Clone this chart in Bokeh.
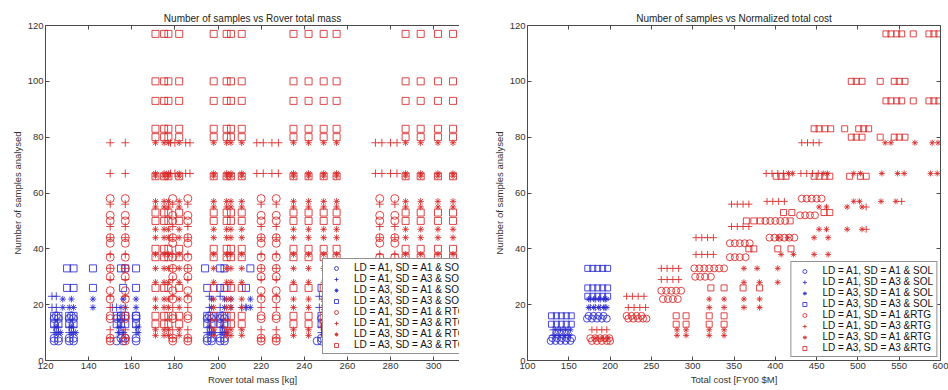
from bokeh.plotting import figure
from bokeh.models import Range1d, LinearAxis, FixedTicker, Legend, LegendItem
from bokeh.layouts import row
from bokeh.embed import file_html
from bokeh.resources import INLINE

BLUE = "#2a2ad0"
RED = "#d82626"
FONT = "Liberation Sans"
AXC = "#4a4a4a"

LABELS_LEFT = ["LD = A1, SD = A1 & SOL", "LD = A1, SD = A3 & SOL", "LD = A3, SD = A1 & SOL",
               "LD = A3, SD = A3 & SOL", "LD = A1, SD = A1 & RTG", "LD = A1, SD = A3 & RTG",
               "LD = A3, SD = A1 & RTG", "LD = A3, SD = A3 & RTG"]
LABELS_RIGHT = ["LD = A1, SD = A1 & SOL", "LD = A1, SD = A3 & SOL", "LD = A3, SD = A1 & SOL",
                "LD = A3, SD = A3 & SOL", "LD = A1, SD = A1 &RTG", "LD = A1, SD = A3 &RTG",
                "LD = A3, SD = A1 &RTG", "LD = A3, SD = A3 &RTG"]
MARKERS = ["circle", "cross", "asterisk", "square"] * 2
COLORS = [BLUE] * 4 + [RED] * 4
SIZES_LEFT = [8, 8, 6.5, 7] * 2
SIZES_RIGHT = [7, 7, 6, 6] * 2

Y_TICKS = [0, 20, 40, 60, 80, 100, 120]
MASS_TICKS = [120, 140, 160, 180, 200, 220, 240, 260, 280, 300, 320]
COST_TICKS = [100, 150, 200, 250, 300, 350, 400, 450, 500, 550, 600]

# ---------------- Left panel: samples vs rover total mass [kg] ----------------
# rows: (number of samples, [rover masses])
M_SOL_A1A1 = [(7, [124, 126, 131, 133, 153, 156, 162, 195, 197, 201, 203, 246, 248]),
              (8, [124, 126, 131, 133, 155, 157, 162, 195, 197, 201, 203, 248]),
              (15, [124, 126, 131, 133, 153, 155, 162, 195, 197, 201, 203, 248]),
              (16, [125, 132, 155, 162, 196, 202])]
M_SOL_A1A3 = [(10, [124, 126, 131, 133, 154, 156, 162, 195, 197, 201, 203, 248]),
              (12, [124, 126, 131, 133, 155, 162, 196, 202, 248]),
              (19, [123, 125, 151, 153, 196, 201, 211, 213, 247]),
              (23, [123, 125, 196, 201, 247])]
M_SOL_A3A1 = [(10, [125, 127, 132, 134, 154, 156, 163, 196, 198, 202, 204, 249]),
              (12, [125, 132, 154, 163, 196, 202]),
              (19, [128, 131, 133, 142, 155, 157, 162, 197, 203, 206, 213, 215, 249]),
              (22, [128, 132, 142, 156, 162, 197, 203, 206, 215, 249])]
M_SOL_A3A3 = [(13, [124, 126, 131, 133, 153, 155, 157, 162, 195, 197, 201, 203, 248]),
              (16, [124, 126, 131, 133, 153, 155, 157, 162, 195, 197, 201, 203, 248]),
              (26, [130, 133, 142, 156, 162, 195, 201, 203, 213, 248]),
              (33, [130, 133, 142, 155, 157, 162, 194, 201, 203, 215, 251])]

M_COLS_CP = [150, 157, 179, 186, 220, 227, 275, 282]
M_COLS_CP_HI = [150, 157, 178, 180, 185, 187, 218, 221, 225, 228, 273, 276, 280, 283]
M_COLS_SQ = [171, 175, 177, 182, 198, 204, 206, 211, 235, 242, 249, 255, 287, 294, 302, 309]

M_RTG_A1A1 = [(7, M_COLS_CP), (8, M_COLS_CP), (15, M_COLS_CP), (16, M_COLS_CP),
              (22, M_COLS_CP), (25, M_COLS_CP), (30, M_COLS_CP), (33, M_COLS_CP),
              (37, M_COLS_CP), (42, M_COLS_CP), (44, M_COLS_CP), (50, M_COLS_CP),
              (52, M_COLS_CP), (58, M_COLS_CP)]
M_RTG_A1A3 = [(8, M_COLS_CP), (11, M_COLS_CP), (19, M_COLS_CP), (23, M_COLS_CP),
              (29, M_COLS_CP), (33, M_COLS_CP), (38, M_COLS_CP), (44, M_COLS_CP),
              (48, M_COLS_CP), (56, M_COLS_CP), (67, M_COLS_CP_HI), (78, M_COLS_CP_HI)]
M_RTG_A3A1 = [(9, M_COLS_SQ), (11, M_COLS_SQ), (19, M_COLS_SQ), (22, M_COLS_SQ),
              (28, M_COLS_SQ), (33, M_COLS_SQ), (38, M_COLS_SQ), (44, M_COLS_SQ),
              (47, M_COLS_SQ), (55, M_COLS_SQ), (57, M_COLS_SQ), (66, M_COLS_SQ),
              (67, M_COLS_SQ), (78, M_COLS_SQ)]
M_RTG_A3A3 = [(13, M_COLS_SQ), (16, M_COLS_SQ), (26, M_COLS_SQ), (37, M_COLS_SQ),
              (40, M_COLS_SQ), (50, M_COLS_SQ), (53, M_COLS_SQ), (66, M_COLS_SQ),
              (80, M_COLS_SQ), (83, M_COLS_SQ), (93, M_COLS_SQ), (100, M_COLS_SQ),
              (117, M_COLS_SQ)]

# ---------------- Right panel: samples vs normalized total cost [FY00 $M] ----------------
C_SOL_A1A1 = [(7, [128, 134, 140, 146, 152]), (8, [130, 136, 142, 148, 154]),
              (15, [172, 178, 184, 190, 196]), (16, [174, 180, 186, 192])]
C_SOL_A1A3 = [(9, [131, 137, 143, 149]), (11, [131, 137, 143, 149]),
              (19, [176, 182, 188, 194]), (22, [176, 182, 188, 194])]
C_SOL_A3A1 = [(9, [133, 139, 145, 151]), (11, [134, 140, 146, 152]),
              (19, [174, 180, 186, 192, 196]), (22, [174, 180, 186, 192, 196])]
C_SOL_A3A3 = [(13, [129, 135, 141, 147, 153]), (16, [129, 135, 141, 147, 153]),
              (23, [173, 179, 185, 191, 197]), (26, [173, 179, 185, 191, 197]),
              (33, [173, 179, 185, 191, 197])]

C_RTG_A1A1 = [(7, [178, 184, 190, 196, 200]), (8, [176, 182, 188, 194, 199]),
              (15, [222, 228, 234, 240, 244]), (16, [220, 226, 232, 238]),
              (22, [264, 270, 276, 282]), (25, [262, 268, 274, 280, 286]),
              (30, [303, 309, 315, 322]), (33, [302, 308, 314, 320, 326, 332, 338]),
              (37, [345, 351, 357, 364]), (42, [345, 351, 357, 363, 369]),
              (44, [393, 399, 405, 411, 417, 423]), (50, [388, 394, 400, 406, 412]),
              (52, [430, 436, 442, 448]), (58, [432, 438, 444, 450, 456])]
C_RTG_A1A3 = [(11, [178, 184, 190, 196]), (19, [222, 229, 236, 243]), (23, [220, 227, 234, 241]),
              (29, [262, 269, 276, 283]), (33, [262, 269, 276, 283]),
              (38, [304, 311, 318, 325]), (44, [304, 311, 318, 325]),
              (48, [347, 354, 361, 368]), (56, [347, 354, 361, 368]),
              (47, [510]), (55, [510]), (57, [390, 397, 404, 411, 553]),
              (67, [389, 396, 403, 410, 431, 438, 445, 452]), (78, [432, 439, 446, 453])]
C_RTG_A3A1 = [(8, [183, 190, 197]), (9, [281, 292, 320, 338]), (11, [281, 292, 320, 338]),
              (19, [320, 338, 362, 381]), (22, [320, 338, 362, 381]),
              (28, [362, 381, 403, 423]), (33, [362, 378, 403, 423]),
              (38, [407, 422, 447, 464]), (44, [404, 415, 447, 464]),
              (47, [453, 462, 487, 505]), (55, [453, 462, 487, 505]),
              (57, [495, 502, 528, 546]),
              (67, [416, 421, 458, 463, 495, 503, 529, 548, 556, 588, 596]),
              (78, [533, 540, 569, 590, 597])]
C_RTG_A3A3 = [(13, [280, 292, 320, 338]), (16, [280, 292, 320, 338]),
              (26, [322, 338, 361, 381]), (40, [368, 374, 403, 419]),
              (50, [365, 374, 382, 418]), (53, [410, 420, 459, 466]),
              (66, [401, 407, 413, 447, 453, 460, 466, 490, 503, 510]),
              (80, [492, 498, 505, 527, 544, 550, 557]),
              (83, [447, 453, 460, 467, 484, 501, 507, 513]),
              (93, [534, 540, 547, 553, 567, 586, 592, 598]),
              (100, [492, 498, 505, 527, 544, 550, 557]),
              (117, [534, 540, 547, 553, 567, 586, 592, 598])]

LEFT_SERIES = [M_SOL_A1A1, M_SOL_A1A3, M_SOL_A3A1, M_SOL_A3A3,
               M_RTG_A1A1, M_RTG_A1A3, M_RTG_A3A1, M_RTG_A3A3]
RIGHT_SERIES = [C_SOL_A1A1, C_SOL_A1A3, C_SOL_A3A1, C_SOL_A3A3,
                C_RTG_A1A1, C_RTG_A1A3, C_RTG_A3A1, C_RTG_A3A3]


def flatten(rows):
    xs, ys = [], []
    for yv, cols in rows:
        for xv in cols:
            xs.append(xv)
            ys.append(yv)
    return xs, ys


def style_axis(ax, labels=True):
    ax.axis_line_color = AXC
    ax.major_tick_line_color = AXC
    ax.major_tick_in = 4
    ax.major_tick_out = 0
    ax.minor_tick_in = 0
    ax.minor_tick_out = 0
    ax.minor_tick_line_color = None
    if labels:
        ax.major_label_text_font = FONT
        ax.major_label_text_font_size = "9.5px"
        ax.major_label_text_color = "#333333"
        ax.major_label_standoff = 2
        ax.axis_label_text_font = FONT
        ax.axis_label_text_font_size = "9.5px"
        ax.axis_label_text_font_style = "normal"
        ax.axis_label_text_color = "#333333"
        ax.axis_label_standoff = 2
    else:
        ax.major_label_text_font_size = "1px"
        ax.major_label_text_color = None
        ax.major_label_standoff = 0


def make_panel(series, labels, sizes, title, xlabel, xr, xticks, width, border_left,
               border_right, legend_loc, right_axis, title_offset):
    p = figure(width=width, height=390, x_range=Range1d(*xr), y_range=Range1d(0, 120),
               output_backend="svg", toolbar_location=None,
               min_border_left=border_left, min_border_right=border_right,
               min_border_top=25, min_border_bottom=30)
    p.outline_line_color = None
    p.grid.visible = False
    p.background_fill_color = "white"
    p.title.text = title
    p.title.align = "center"
    p.title.offset = title_offset
    p.title.text_font = FONT
    p.title.text_font_size = "10px"
    p.title.text_font_style = "normal"
    p.title.text_color = "#222222"
    p.title.standoff = 4

    p.xaxis.ticker = FixedTicker(ticks=xticks)
    p.yaxis.ticker = FixedTicker(ticks=Y_TICKS)
    p.xaxis.axis_label = xlabel
    p.yaxis.axis_label = "Number of samples analysed"
    style_axis(p.xaxis[0])
    style_axis(p.yaxis[0])

    top = LinearAxis(ticker=FixedTicker(ticks=xticks))
    style_axis(top, labels=False)
    p.add_layout(top, "above")
    if right_axis:
        rax = LinearAxis(ticker=FixedTicker(ticks=Y_TICKS))
        style_axis(rax, labels=False)
        p.add_layout(rax, "right")

    items = []
    for rows, lab, mk, col, sz in zip(series, labels, MARKERS, COLORS, sizes):
        xs, ys = flatten(rows)
        r = p.scatter(xs, ys, marker=mk, size=sz, line_color=col, fill_color=None,
                      line_width=1, line_alpha=0.85)
        items.append(LegendItem(label=lab, renderers=[r]))

    lg = Legend(items=items, location=legend_loc)
    lg.border_line_color = "#222222"
    lg.border_line_width = 1
    lg.background_fill_color = "white"
    lg.background_fill_alpha = 1.0
    lg.label_text_font = FONT
    lg.label_text_font_size = "10px"
    lg.label_text_color = "#111111"
    lg.label_height = 10
    lg.glyph_height = 10
    lg.glyph_width = 20
    lg.label_standoff = 8
    lg.spacing = 0
    lg.padding = 3
    lg.margin = 3
    p.add_layout(lg)
    return p


left = make_panel(LEFT_SERIES, LABELS_LEFT, SIZES_LEFT, "Number of samples vs Rover total mass",
                  "Rover total mass [kg]", (120, 312), MASS_TICKS, 459, 45, 0,
                  (277, 6), False, 7)
right = make_panel(RIGHT_SERIES, LABELS_RIGHT, SIZES_RIGHT,
                   "Number of samples vs Normalized total cost",
                   "Total cost [FY00 $M]", (100, 600), COST_TICKS, 489, 68, 8,
                   "bottom_right", True, 0)

layout = row(left, right)
open("out.html", "w").write(file_html(layout, INLINE))
